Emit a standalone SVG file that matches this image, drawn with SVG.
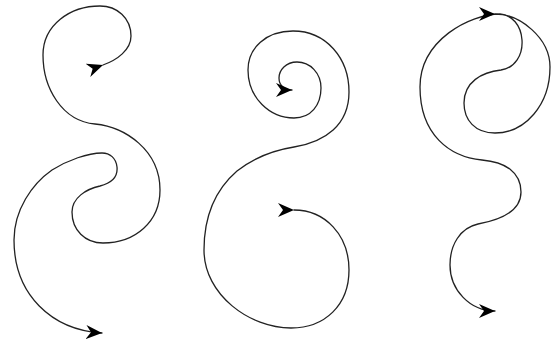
<svg xmlns="http://www.w3.org/2000/svg" width="552" height="342" viewBox="0 0 552 342">
<style>
.curve{fill:none;stroke:#222;stroke-width:1.3;stroke-linecap:round;marker-start:url(#ah);marker-end:url(#ah)}
</style>
<defs>
<marker id="ah" markerUnits="userSpaceOnUse" markerWidth="16" markerHeight="14" viewBox="0 0 16 14" refX="16" refY="7" orient="auto">
<path d="M0,0 L16,7 L0,14 L5,7 Z" fill="#000"/>
</marker>
</defs>
<rect width="552" height="342" fill="#fff"/>
<g id="curve-left">
<path class="curve" d="M103,65 C117,60 131,50 131,36 C131,18 117,6 100,6 C70,6 43,25 43,55 C43,88 62,121 95,124 C125,127 160,150 160,190 C160,222 135,243 103,243 C85,243 72,230 72,212 C72,198 86,189 100,186 C112,183 118,177 117,167 C116,158 110,153 102,153 C88,153 68,160 52,170 C32,184 14,210 14,240 C14,295 52,330 102,333"/>
</g>
<g id="curve-middle">
<path class="curve" d="M294,210 C325,210 349,235 349,270 C349,305 325,328 291,328 C250,328 204,295 204,250 C204,215 215,190 237,171 C255,157 275,150 294,147 C325,142 349,125 349,92 C349,58 326,31 293,31 C266,31 248,48 248,70 C248,98 270,118 294,118 C311,118 321,105 321,88 C321,73 310,62 297,62 C286,62 279,70 279,78 C279,86 285,90 292,90"/>
</g>
<g id="curve-right">
<path class="curve" d="M495,14 C520,14 550,38 550,67 C550,105 525,133 495,133 C475,133 464,120 464,103 C464,82 482,72 501,70 C515,68 523,55 522,40 C521,25 512,15 500,14 C470,14 420,40 420,87 C420,135 450,157 482,160 C505,162 521,172 521,192 C521,212 500,220 478,224 C460,228 450,245 450,265 C450,290 470,311 495,311"/>
</g>
</svg>
